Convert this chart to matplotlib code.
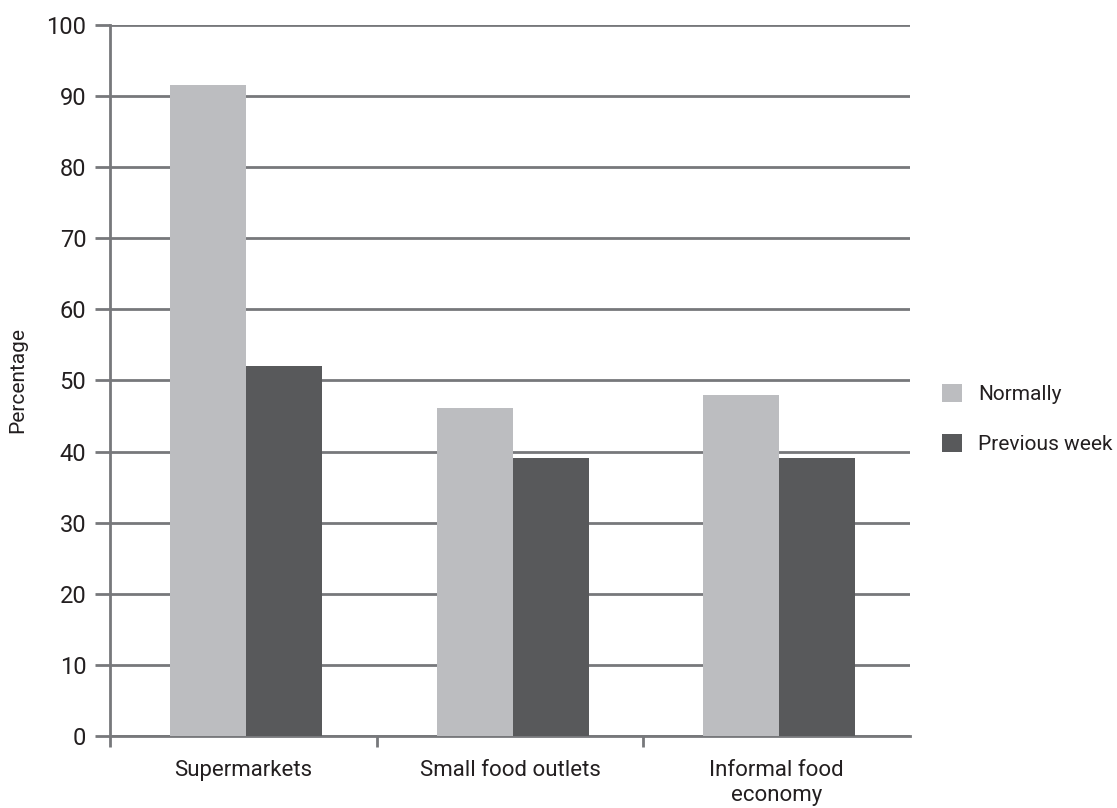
import numpy as np
import matplotlib.pyplot as plt

# Daten
kategorien = ['Supermarkets', 'Small food outlets', 'Informal food\neconomy']
normally = [91.6, 46.1, 47.9]
previous_week = [52.0, 39.1, 39.1]

hell = '#bcbdc0'
dunkel = '#58595b'
grau = '#77787b'

plt.rcParams['font.family'] = ['Roboto', 'DejaVu Sans']

fig = plt.figure(figsize=(11.17, 8.08), dpi=100)
ax = fig.add_axes([0.0985, 0.0891, 0.7162, 0.8800])

x = np.arange(len(kategorien))
breite = 0.285
versatz = 0.01
ax.bar(x + versatz - breite / 2, normally, breite, color=hell, label='Normally', zorder=3)
ax.bar(x + versatz + breite / 2, previous_week, breite, color=dunkel, label='Previous week', zorder=3)

ax.set_xlim(-0.5, 2.5)
ax.set_ylim(0, 100)
ax.set_yticks(range(0, 101, 10))
ax.yaxis.grid(True, color=grau, linewidth=2, zorder=0)

# Kategorie-Labels ohne Ticks, Ticks an den Grenzen
ax.set_xticks(x)
ax.set_xticklabels(kategorien, fontsize=16, color='#231f20', linespacing=1.25)
ax.tick_params(axis='x', length=0, pad=17)
ax.set_xticks([-0.5, 0.5, 1.5], minor=True)
ax.tick_params(axis='x', which='minor', length=8, width=2, color=grau, direction='out')
ax.tick_params(axis='y', length=11, width=2, color=grau, labelsize=17, labelcolor='#231f20', pad=6)

for s in ['top', 'right']:
    ax.spines[s].set_visible(False)
for s in ['left', 'bottom']:
    ax.spines[s].set_color(grau)
    ax.spines[s].set_linewidth(2)

ax.set_ylabel('Percentage', fontsize=15, color='#231f20', labelpad=14)

ax.legend(loc='center left', bbox_to_anchor=(1.04, 0.446), frameon=False, fontsize=15,
          borderpad=0, borderaxespad=0,
          handlelength=0.95, handleheight=0.95, labelspacing=1.45, handletextpad=0.8,
          labelcolor='#231f20')

fig.savefig('out.png', dpi=100)
